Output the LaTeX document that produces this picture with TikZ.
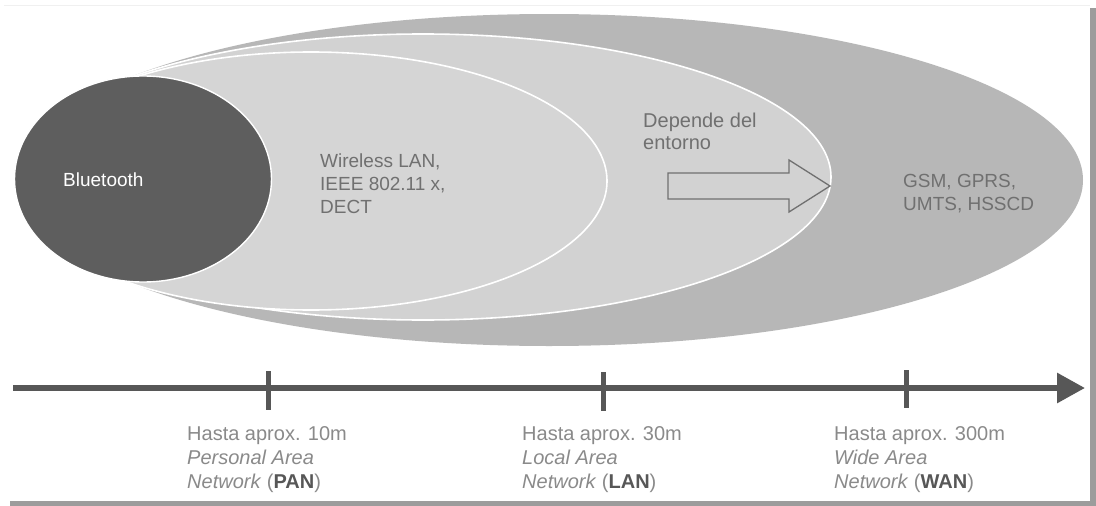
\documentclass[tikz,border=0pt]{standalone}
\usepackage{fontspec}
\setmainfont{Liberation Sans}
\usetikzlibrary{arrows.meta}

\definecolor{wanfill}{HTML}{B7B7B7}
\definecolor{lanfill}{HTML}{D2D2D2}
\definecolor{panfill}{HTML}{D5D5D5}
\definecolor{btfill}{HTML}{5E5E5E}
\definecolor{inktext}{HTML}{707070}
\definecolor{axisgray}{HTML}{575757}
\definecolor{labelgray}{HTML}{8A8A8A}
\definecolor{framegray}{HTML}{9C9C9C}

\begin{document}
\begin{tikzpicture}[x=1pt,y=-1pt,
  zonelabel/.style={inner sep=0pt,anchor=base west,text=inktext,
    font=\fontsize{19}{22}\selectfont},
  scalelabel/.style={inner sep=0pt,anchor=base west,text=labelgray,
    font=\fontsize{20}{23}\selectfont},
  tickmark/.style={line width=5pt,draw=axisgray},
  rangeaxis/.style={line width=6pt,draw=axisgray,
    -{Triangle[length=28pt,width=29pt]}},
  blockarrow/.style={draw=inktext,line width=1.3pt,fill=lanfill,line join=miter}]

% page and frame shadow
\fill[white] (0,0) rectangle (1096,506);
\useasboundingbox (0,0) rectangle (1096,506);
\draw[black!6,line width=1pt] (4,5) -- (1090,5);
\fill[framegray] (1090,8) rectangle (1096,506);
\fill[framegray] (10,501) rectangle (1096,506);

% coverage zones, widest first
\fill[wanfill] (549,180) ellipse [x radius=534,y radius=166];
\filldraw[fill=lanfill,draw=white,line width=1.6pt] (423,177) ellipse [x radius=408,y radius=143];
\filldraw[fill=panfill,draw=white,line width=1.6pt] (311,181) ellipse [x radius=296,y radius=129];
\filldraw[fill=btfill,draw=white,line width=1.4pt] (143,179) ellipse [x radius=128.5,y radius=103];

% block arrow towards the LAN boundary
\draw[blockarrow] (668,173) -- (789,173) -- (789,160) -- (830,186)
  -- (789,212) -- (789,199) -- (668,199) -- cycle;

% zone texts
\node[zonelabel,text=white] (bt) at (63,186) {Bluetooth};
\node[zonelabel] (wl1) at (320,167) {Wireless LAN,};
\node[zonelabel] (wl2) at (320,190) {IEEE 802.11 x,};
\node[zonelabel] (wl3) at (320,213) {DECT};
\node[zonelabel,font=\fontsize{20}{22}\selectfont] (dep1) at (643,127) {Depende del};
\node[zonelabel,font=\fontsize{20}{22}\selectfont] (dep2) at (643,149) {entorno};
\node[zonelabel] (gsm1) at (903,187) {GSM, GPRS,};
\node[zonelabel] (gsm2) at (903,210) {UMTS, HSSCD};

% distance axis
\coordinate (axstart) at (13,388);
\coordinate (axend) at (1085,388);
\draw[rangeaxis] (axstart) -- (axend);
\coordinate (t1a) at (268,371); \coordinate (t1b) at (268,410);
\coordinate (t2a) at (603,372); \coordinate (t2b) at (603,411);
\coordinate (t3a) at (906,370); \coordinate (t3b) at (906,408);
\draw[tickmark] (t1a) -- (t1b);
\draw[tickmark] (t2a) -- (t2b);
\draw[tickmark] (t3a) -- (t3b);

% range labels
\node[scalelabel] (pan1) at (187,440) {Hasta aprox. 10m};
\node[scalelabel] (pan2) at (187,464) {\itshape Personal Area};
\node[scalelabel] (pan3) at (187,488) {\itshape Network\/ \upshape(\textbf{\color{axisgray}PAN})};
\node[scalelabel] (lan1) at (522,440) {Hasta aprox. 30m};
\node[scalelabel] (lan2) at (522,464) {\itshape Local Area};
\node[scalelabel] (lan3) at (522,488) {\itshape Network\/ \upshape(\textbf{\color{axisgray}LAN})};
\node[scalelabel] (wan1) at (834,440) {Hasta aprox. 300m};
\node[scalelabel] (wan2) at (834,464) {\itshape Wide Area};
\node[scalelabel] (wan3) at (834,488) {\itshape Network\/ \upshape(\textbf{\color{axisgray}WAN})};

\end{tikzpicture}
\end{document}
